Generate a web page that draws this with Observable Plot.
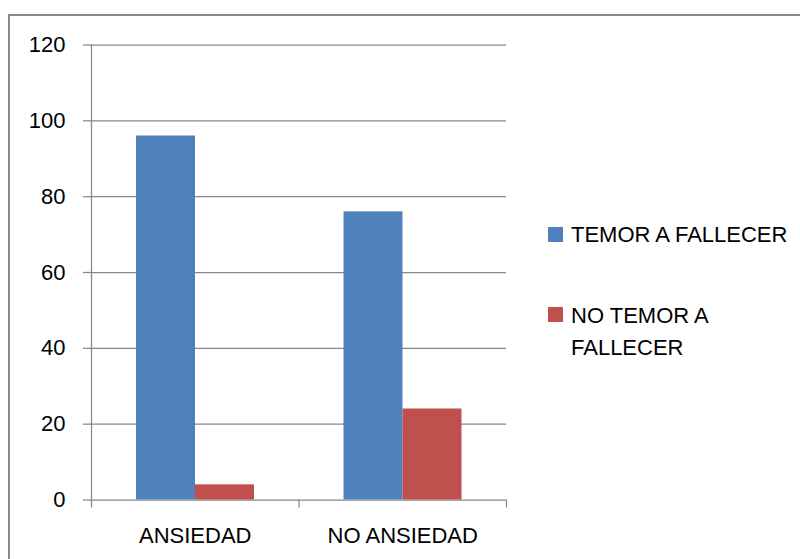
<!DOCTYPE html>
<html>
<head>
<meta charset="utf-8">
<script src="https://cdn.jsdelivr.net/npm/d3@7"></script>
<script src="https://cdn.jsdelivr.net/npm/@observablehq/plot@0.6"></script>
<style>
  html, body { margin: 0; padding: 0; background: #fff; overflow: hidden; }
  #wrap { position: relative; width: 800px; height: 559px; font-family: "Liberation Sans", Arial, sans-serif; }
  #border { position: absolute; left: 8px; top: 14px; width: 900px; height: 700px;
            border-left: 2px solid #8a8a8a; border-top: 2px solid #8a8a8a; }
  #chart { position: absolute; left: 0; top: 0; }
  .leg { position: absolute; left: 548px; font-size: 22px; line-height: 32px; color: #000; }
  .sw { position: absolute; left: 0; width: 15px; height: 15px; }
  .lt { position: absolute; left: 23px; width: 220px; white-space: normal; }
</style>
</head>
<body>
<div id="wrap">
  <div id="border"></div>
  <div id="chart"></div>
  <div id="legend"></div>
</div>
<script>
const categories = ["ANSIEDAD", "NO ANSIEDAD"];
const series = ["TEMOR A FALLECER", "NO TEMOR A FALLECER"];
const temorValues = [96, 76];
const noTemorValues = [4, 24];
const yTicks = [0, 20, 40, 60, 80, 100, 120];
const colors = ["#4F81BD", "#C0504D"];

const rows = categories.flatMap((c, i) => [
  {cat: c, ci: i, s: series[0], si: 0, value: temorValues[i]},
  {cat: c, ci: i, s: series[1], si: 1, value: noTemorValues[i]}
]);

const groupOffset = 0.2169;
const barW = 0.2843;
const gridColor = "#878787";

const plot = Plot.plot({
  width: 800,
  height: 559,
  marginLeft: 91,
  marginRight: 294,
  marginTop: 44.5,
  marginBottom: 59.5,
  style: {fontFamily: '"Liberation Sans", Arial, sans-serif', fontSize: "22px", color: "#000", background: "none"},
  x: {domain: [0, categories.length], label: null},
  y: {domain: [0, 120], label: null},
  color: {domain: series, range: colors},
  marks: [
    Plot.gridY(yTicks, {stroke: gridColor, strokeOpacity: 1, strokeWidth: 1.25}),
    Plot.axisY(yTicks, {tickSize: 8, tickPadding: 18, stroke: gridColor, strokeWidth: 1.25,
      tickFormat: d => String(d), fontSize: 22, fill: "#000", label: null}),
    Plot.ruleX([0], {y1: 0, y2: 120, stroke: gridColor, strokeWidth: 1.25}),
    Plot.rect(rows, {
      x1: d => d.ci + groupOffset + d.si * barW,
      x2: d => d.ci + groupOffset + (d.si + 1) * barW,
      y1: 0, y2: "value", fill: "s"
    }),
    Plot.axisX(d3.range(categories.length + 1), {tickSize: 8, stroke: gridColor, strokeWidth: 1.25,
      tickFormat: () => "", label: null}),
    Plot.axisX(categories.map((c, i) => i + 0.5), {tickSize: 0, tickPadding: 27,
      tickFormat: v => categories[Math.floor(v)], fontSize: 22, fill: "#000", label: null})
  ]
});
document.getElementById("chart").appendChild(plot);

// legend
const legendTops = [218.7, 299.7];
const legend = document.getElementById("legend");
series.forEach((s, i) => {
  const item = document.createElement("div");
  item.className = "leg";
  item.style.top = legendTops[i] + "px";
  const sw = document.createElement("div");
  sw.className = "sw";
  sw.style.background = colors[i];
  sw.style.top = (i === 0 ? 8.3 : 7.3) + "px";
  const t = document.createElement("div");
  t.className = "lt";
  t.textContent = s;
  item.appendChild(sw);
  item.appendChild(t);
  legend.appendChild(item);
});
</script>
</body>
</html>
